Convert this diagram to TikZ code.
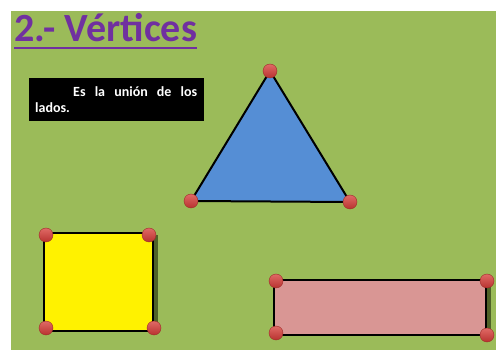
\documentclass[tikz,border=0pt]{standalone}
\usepackage{fontspec}
\setmainfont{Carlito}
\definecolor{bggreen}{HTML}{9BBB59}
\definecolor{titlepurple}{HTML}{7030A0}
\definecolor{triblue}{HTML}{558ED5}
\definecolor{pinkfill}{HTML}{D99694}
\definecolor{shadowgreen}{HTML}{4F6228}
\definecolor{balltop}{HTML}{E06A66}
\definecolor{ballbottom}{HTML}{B8322F}
\definecolor{ballline}{HTML}{9E2B28}
\begin{document}
\begin{tikzpicture}[x=1pt,y=-1pt,
  vertex/.style={circle,minimum size=14pt,inner sep=0pt,top color=balltop,bottom color=ballbottom,draw=ballline,line width=0.4pt},
  shapeline/.style={draw=black,line width=2pt,line join=miter}]
\useasboundingbox (0,0) rectangle (496,350);
\fill[white] (0,0) rectangle (496,350);
\fill[bggreen] (11,11) rectangle (496,350);
% title
\node[anchor=base west,inner sep=0pt,text=titlepurple,font=\bfseries\fontsize{40}{44}\selectfont] (title) at (14,42) {2.- Vértices};
\draw[titlepurple,line width=2.2pt] ([yshift=-6pt]title.base west) -- ([yshift=-6pt]title.base east);
% text box
\node[fill=black,text=white,anchor=north west,inner sep=0pt,minimum width=175pt,minimum height=43pt] (box) at (29,78) {};
\node[anchor=north west,inner sep=0pt,text=white,font=\bfseries\fontsize{14}{16.5}\selectfont] (txt) at (35,86)
  {\parbox[t]{162pt}{\parindent=38pt\indent Es la unión de los\linebreak lados.}};
% triangle
\coordinate (ta) at (270,71);
\coordinate (tb) at (191,201);
\coordinate (tc) at (350,202);
\draw[shapeline,fill=triblue] (ta) -- (tb) -- (tc) -- cycle;
% yellow square
\fill[shadowgreen] (47,235) rectangle (158,331);
\coordinate (s1) at (44,233);
\coordinate (s2) at (153,331);
\draw[shapeline,fill=yellow] (s1) rectangle (s2);
% pink rectangle
\fill[shadowgreen] (278,282) rectangle (491,336);
\coordinate (r1) at (274,280);
\coordinate (r2) at (486,335);
\draw[shapeline,fill=pinkfill] (r1) rectangle (r2);
% vertices
\node[vertex] (va) at (ta) {};
\node[vertex] (vb) at (tb) {};
\node[vertex] (vc) at (tc) {};
\node[vertex] (q1) at (46,235) {};
\node[vertex] (q2) at (149,235) {};
\node[vertex] (q3) at (46,328) {};
\node[vertex] (q4) at (154,328) {};
\node[vertex] (p1) at (276,281) {};
\node[vertex] (p2) at (487,281) {};
\node[vertex] (p3) at (276,333) {};
\node[vertex] (p4) at (487,335) {};
\end{tikzpicture}
\end{document}
